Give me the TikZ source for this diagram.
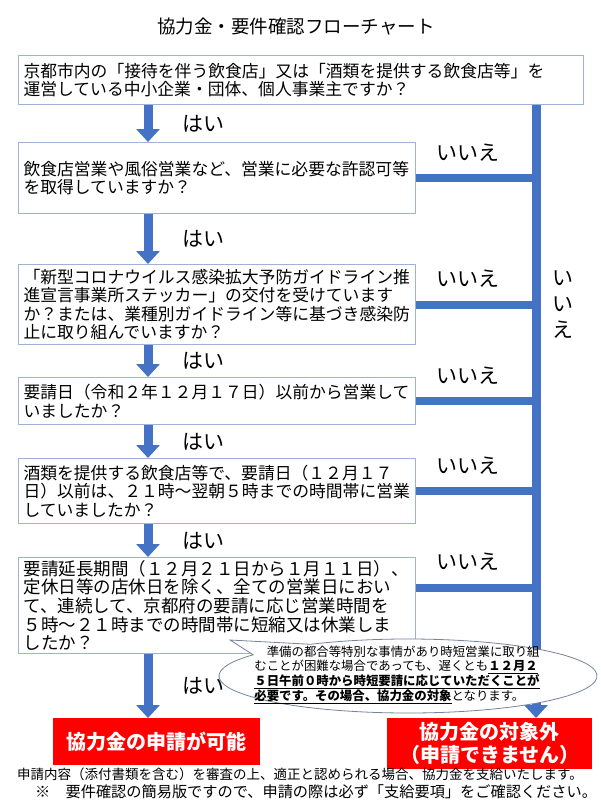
\documentclass[tikz,border=0pt]{standalone}
\usepackage{fontspec}
\setmainfont{Noto Sans CJK JP}
\usetikzlibrary{positioning, arrows.meta, calc}

\definecolor{flowblue}{HTML}{4472C4}
\definecolor{boxline}{HTML}{9DB2D6}
\definecolor{calloutline}{HTML}{76849A}
\definecolor{alertred}{HTML}{FF0000}
\newcommand\ulb[1]{\underline{\textbf{#1}}}

\tikzset{
  qbox/.style={draw=boxline, line width=1pt, fill=white, rectangle, anchor=north west,
    inner xsep=5pt, inner ysep=0pt, text width=387pt, align=left,
    font=\fontsize{16.8}{18.5}\selectfont},
  yesarrow/.style={flowblue, line width=9pt, -{Triangle[width=23pt, length=13pt]}},
  noline/.style={flowblue, line width=8pt},
  yeslbl/.style={anchor=west, xshift=30pt, inner sep=0pt, text=black,
    font=\fontsize{21}{21}\selectfont},
  nolbl/.style={above=13pt, xshift=-8pt, inner sep=0pt, text=black,
    font=\fontsize{21}{21}\selectfont},
  result/.style={fill=alertred, text=white, anchor=north west, inner sep=0pt,
    align=center, font=\bfseries\fontsize{20}{23}\selectfont}
}

\begin{document}
\begin{tikzpicture}[x=1pt, y=1pt]
  \useasboundingbox[fill=white] (0,0) rectangle (600,-800);

  % Title
  \node[font=\fontsize{18.5}{18.5}\selectfont] (title) at (296,-27) {協力金・要件確認フローチャート};

  % Questions
  \node[qbox, text width=555pt, minimum height=49pt] (q1) at (18,-55)
    {京都市内の「接待を伴う飲食店」又は「酒類を提供する飲食店等」を\\運営している中小企業・団体、個人事業主ですか？};
  \node[qbox, minimum height=71pt] (q2) at (18,-142)
    {飲食店営業や風俗営業など、営業に必要な許認可等\\を取得していますか？};
  \node[qbox, minimum height=80pt] (q3) at (18,-264)
    {「新型コロナウイルス感染拡大予防ガイドライン推\\進宣言事業所ステッカー」の交付を受けています\\か？または、業種別ガイドライン等に基づき感染防\\止に取り組んでいますか？};
  \node[qbox, minimum height=47pt] (q4) at (18,-377)
    {要請日（令和２年１２月１７日）以前から営業して\\いましたか？};
  \node[qbox, minimum height=65pt] (q5) at (18,-458)
    {酒類を提供する飲食店等で、要請日（１２月１７\\日）以前は、２１時～翌朝５時までの時間帯に営業\\していましたか？};
  \node[qbox, minimum height=96pt, font=\fontsize{17.5}{18.7}\selectfont] (q6) at (18,-557)
    {要請延長期間（１２月２１日から１月１１日）、\\定休日等の店休日を除く、全ての営業日におい\\て、連続して、京都府の要請に応じ営業時間を\\５時～２１時までの時間帯に短縮又は休業しま\\したか？};

  % Results
  \node[result, minimum width=207pt, minimum height=47pt] (ok) at (53,-718) {協力金の申請が可能};
  \node[result, minimum width=205pt, minimum height=51pt] (ng) at (387,-718) {協力金の対象外\\（申請できません）};

  \coordinate (ax) at (148,0);
  \coordinate (nx) at (536,0);

  % Yes path
  \draw[yesarrow] (q1.south -| ax) -- node[yeslbl] (y1) {はい} (q2.north -| ax);
  \draw[yesarrow] (q2.south -| ax) -- node[yeslbl] (y2) {はい} (q3.north -| ax);
  \draw[yesarrow] (q3.south -| ax) -- node[yeslbl] (y3) {はい} (q4.north -| ax);
  \draw[yesarrow] (q4.south -| ax) -- node[yeslbl] (y4) {はい} (q5.north -| ax);
  \draw[yesarrow] (q5.south -| ax) -- node[yeslbl] (y5) {はい} (q6.north -| ax);

  % No path
  \draw[yesarrow] (q1.south -| nx) -- (ng.north -| nx);
  \draw[noline] (q2.east) -- node[nolbl] (n2) {いいえ} (q2.east -| nx);
  \draw[noline] (q3.east) -- node[nolbl] (n3) {いいえ} (q3.east -| nx);
  \draw[noline] (q4.east) -- node[nolbl] (n4) {いいえ} (q4.east -| nx);
  \draw[noline] (q5.east) -- node[nolbl] (n5) {いいえ} (q5.east -| nx);
  \draw[noline] ($(q6.east)+(0,18)$) -- node[nolbl] (n6) {いいえ} ($(q6.east -| nx)+(0,18)$);
  \node[inner sep=0pt, align=center, font=\fontsize{21}{26}\selectfont] (nv) at (563,-305) {い\\い\\え};

  % Callout
  \coordinate (cc) at (408,-676);
  \coordinate (tip) at (230,-640);
  \draw[calloutline, fill=white, line width=0.8pt] (tip) -- ($(cc)+(121:189pt and 37pt)$)
    arc[start angle=121, end angle=-215, x radius=189pt, y radius=37pt] -- cycle;
  \node[inner sep=0pt, align=left, font=\fontsize{12.4}{13.4}\selectfont] (note) at (397,-675)
    {　準備の都合等特別な事情があり時短営業に取り組\\むことが困難な場合であっても、遅くとも\ulb{１２月２}\\\ulb{５日午前０時から時短要請に応じていただくことが}\\\ulb{必要です。その場合、協力金の対象}となります。};

  \draw[yesarrow] (q6.south -| ax) -- node[yeslbl] (y6) {はい} (ok.north -| ax);

  % Footer
  \node[anchor=west, inner sep=0pt, font=\fontsize{13.5}{13.5}\selectfont] (f1) at (17,-774)
    {申請内容（添付書類を含む）を審査の上、適正と認められる場合、協力金を支給いたします。};
  \node[anchor=west, inner sep=0pt, font=\fontsize{15.2}{15.2}\selectfont] (f2) at (35,-792)
    {※　要件確認の簡易版ですので、申請の際は必ず「支給要項」をご確認ください。};
\end{tikzpicture}
\end{document}
